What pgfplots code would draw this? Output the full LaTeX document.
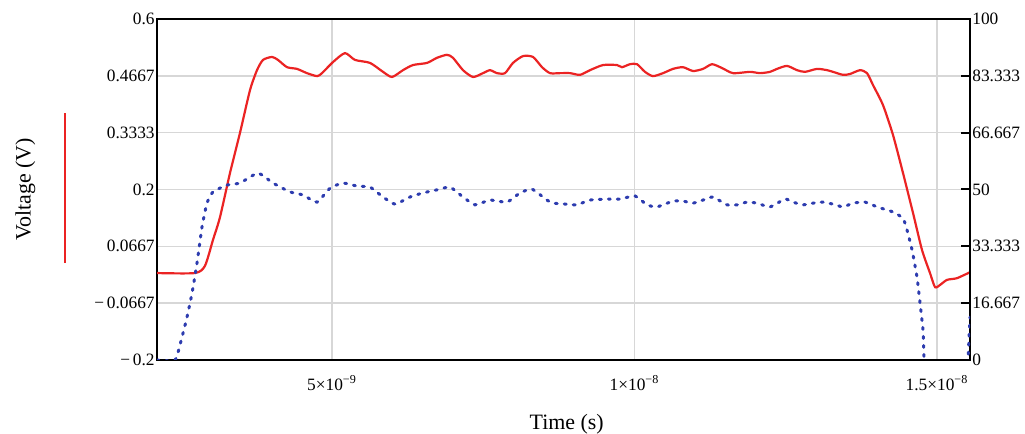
\documentclass[border=0pt]{standalone}
\usepackage{fontspec}
\setmainfont{Liberation Serif}
\usepackage{pgfplots}
\pgfplotsset{compat=1.18}
\definecolor{redc}{RGB}{235,35,35}
\definecolor{bluec}{RGB}{45,60,175}
\definecolor{gridc}{RGB}{215,215,215}

% time in ns, voltage in V
\pgfplotstableread{
t v
2.107 0.004
2.735 0.004
2.900 0.021
3.033 0.082
3.148 0.135
3.314 0.239
3.479 0.333
3.644 0.433
3.760 0.480
3.859 0.504
4.008 0.511
4.107 0.504
4.256 0.487
4.421 0.483
4.586 0.473
4.752 0.466
4.834 0.473
5.016 0.499
5.214 0.520
5.380 0.504
5.628 0.497
5.843 0.476
5.991 0.464
6.173 0.480
6.338 0.492
6.570 0.497
6.735 0.509
6.900 0.516
6.999 0.509
7.165 0.480
7.330 0.464
7.495 0.473
7.611 0.480
7.727 0.473
7.859 0.473
7.991 0.497
8.157 0.513
8.322 0.511
8.471 0.487
8.603 0.473
8.768 0.473
8.934 0.473
9.099 0.469
9.264 0.480
9.479 0.492
9.710 0.492
9.793 0.487
9.925 0.494
10.041 0.494
10.173 0.476
10.305 0.466
10.471 0.473
10.636 0.483
10.801 0.487
10.967 0.478
11.132 0.483
11.281 0.494
11.446 0.485
11.628 0.473
11.909 0.476
12.074 0.473
12.239 0.476
12.355 0.483
12.520 0.490
12.686 0.480
12.818 0.476
13.016 0.483
13.182 0.480
13.281 0.476
13.446 0.469
13.562 0.471
13.727 0.480
13.843 0.473
13.942 0.445
14.107 0.398
14.272 0.328
14.437 0.239
14.603 0.145
14.752 0.058
14.884 0.004
14.967 -0.029
15.049 -0.024
15.165 -0.012
15.330 -0.008
15.545 0.006
}\redtab

% time in ns, right-axis value
\pgfplotstableread{
t r
2.107 0
2.405 0
2.520 6.7
2.603 12.6
2.686 19.6
2.768 28.4
2.851 39.0
2.933 46.0
3.033 49.3
3.264 51.3
3.479 51.9
3.776 54.8
4.024 51.9
4.305 49.3
4.520 48.4
4.752 46.3
4.967 50.4
5.181 51.9
5.413 51.0
5.628 50.7
5.843 47.8
6.041 45.7
6.289 47.8
6.504 49.0
6.735 49.9
6.950 50.7
7.165 47.8
7.363 45.5
7.611 46.9
7.892 46.3
8.107 49.0
8.305 50.1
8.553 46.9
8.652 46.0
8.884 45.7
9.049 45.5
9.264 46.9
9.545 47.2
9.760 47.2
10.008 48.1
10.206 45.5
10.371 44.9
10.636 46.6
10.801 46.6
10.967 46.0
11.132 46.9
11.297 47.8
11.529 45.5
11.694 45.5
11.859 46.3
12.024 46.0
12.239 44.9
12.487 47.2
12.619 46.3
12.785 45.5
12.950 46.0
13.115 46.3
13.281 45.7
13.446 44.9
13.612 46.0
13.810 46.3
14.008 44.9
14.173 44.0
14.272 43.4
14.437 41.6
14.504 38.1
14.587 32.3
14.669 24.3
14.719 16.7
14.768 8.8
14.785 0.6
14.818 -20
15.462 -20
15.512 0
15.545 12.6
}\bluetab

\begin{document}
\begin{tikzpicture}
\useasboundingbox (0,0) rectangle (512.5bp,217bp);
\begin{axis}[
  at={(78.5bp,37bp)}, anchor=south west,
  scale only axis, width=406.5bp, height=170.5bp,
  xmin=2.107, xmax=15.545, ymin=-0.2, ymax=0.6,
  xtick={5,10,15},
  xticklabels={5×10\textsuperscript{−9}, 1×10\textsuperscript{−8}, 1.5×10\textsuperscript{−8}},
  ytick={-0.2,-0.0667,0.0667,0.2,0.3333,0.4667,0.6},
  yticklabels={−\,0.2, −\,0.0667, 0.0667, 0.2, 0.3333, 0.4667, 0.6},
  grid=major, major grid style={gridc, line width=0.7bp},
  major tick length=0pt,
  axis line style={black, line width=1bp},
  ticklabel style={font=\fontsize{8.7}{10}\selectfont},
  yticklabel style={inner sep=1bp},
  xticklabel style={yshift=-4bp},
  clip mode=individual,
]
\addplot[redc, line width=1.1bp, smooth, tension=0.4] table[x=t, y=v] {\redtab};
\node[rotate=90, font=\fontsize{11}{13}\selectfont] at (axis description cs:-0.162,0.5) {Voltage (V)};
\draw[redc, line width=1.1bp] (axis description cs:-0.113,0.284) -- (axis description cs:-0.113,0.724);
\node[font=\fontsize{11}{13}\selectfont] at (axis description cs:0.504,-0.188) {Time (s)};
\end{axis}
\begin{axis}[
  at={(78.5bp,37bp)}, anchor=south west,
  scale only axis, width=406.5bp, height=170.5bp,
  xmin=2.107, xmax=15.545, ymin=0, ymax=100,
  axis x line=none, axis y line*=right,
  ytick={0,16.667,33.333,50,66.667,83.333,100},
  yticklabels={0,16.667,33.333,50,66.667,83.333,100},
  tick align=inside, major tick length=4.5bp,
  ytick style={black, line width=1bp},
  axis line style={black, line width=1bp},
  ticklabel style={font=\fontsize{8.7}{10}\selectfont},
  yticklabel style={inner sep=1bp},
  clip mode=individual,
]
\addplot[bluec, line width=1.5bp, line cap=round, dash pattern=on 1bp off 3.5bp, smooth, tension=0.3] table[x=t, y=r] {\bluetab};
\end{axis}
\end{tikzpicture}
\end{document}
